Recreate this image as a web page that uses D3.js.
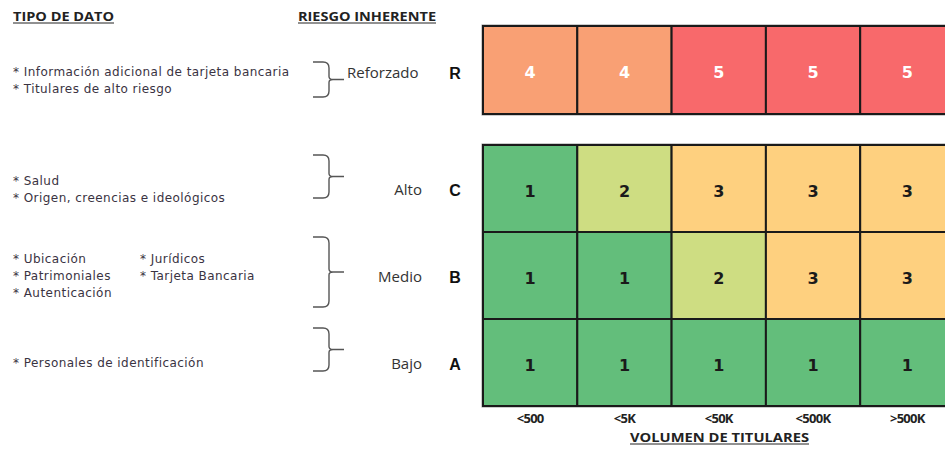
<!DOCTYPE html>
<html>
<head>
<meta charset="utf-8">
<script src="https://cdn.jsdelivr.net/npm/d3@7"></script>
<style>
    body { margin: 0; background: #fff; }
    svg { display: block; }
</style>
</head>
<body>
<script>
// data
const rowCodes = ["R", "C", "B", "A"];
const riskLevels = ["Reforzado", "Alto", "Medio", "Bajo"];
const volumes = ["<500", "<5K", "<50K", "<500K", ">500K"];
const scoreR = [4, 4, 5, 5, 5];
const scoreC = [1, 2, 3, 3, 3];
const scoreB = [1, 1, 2, 3, 3];
const scoreA = [1, 1, 1, 1, 1];
const dataTypes = [
    ["Información adicional de tarjeta bancaria", "Titulares de alto riesgo"],
    ["Salud", "Origen, creencias e ideológicos"],
    ["Ubicación", "Patrimoniales", "Autenticación", "Jurídicos", "Tarjeta Bancaria"],
    ["Personales de identificación"]
];
const scores = [scoreR, scoreC, scoreB, scoreA];

const width = 945, height = 449;
const svg = d3.select("body").append("svg")
    .attr("width", width).attr("height", height);

const cellW = 94.3;
const x = d3.scaleBand().domain(volumes).range([483, 483 + cellW * volumes.length]);

// R row sits apart, the other three are one block
const yTop = d3.scaleBand().domain(["R"]).range([26, 114]);
const yMain = d3.scaleBand().domain(["C", "B", "A"]).range([145, 406]);
const yRow = code => code === "R" ? yTop(code) : yMain(code);
const rowH = code => code === "R" ? yTop.bandwidth() : yMain.bandwidth();

const color = d3.scaleOrdinal()
    .domain([1, 2, 3, 4, 5])
    .range(["#63be7b", "#cedd82", "#fed07f", "#f9a074", "#f8696b"]);

const cells = [];
rowCodes.forEach((r, i) => scores[i].forEach((v, j) => cells.push({row: r, col: volumes[j], v})));

// light outer shadow of each block
[["R", yTop], ["C", yMain]].forEach(([k, sc]) => {
    svg.append("rect")
        .attr("x", x.range()[0] - 1).attr("y", sc.range()[0] - 1)
        .attr("width", x.range()[1] - x.range()[0] + 2)
        .attr("height", sc.range()[1] - sc.range()[0] + 2)
        .attr("fill", "none").attr("stroke", "#999").attr("stroke-width", 1);
});

const g = svg.append("g").selectAll("g").data(cells).join("g");
g.append("rect")
    .attr("x", d => x(d.col))
    .attr("y", d => yRow(d.row))
    .attr("width", x.bandwidth())
    .attr("height", d => rowH(d.row))
    .attr("fill", d => color(d.v))
    .attr("stroke", "#1a1a1a")
    .attr("stroke-width", 2);
g.append("text")
    .attr("x", d => x(d.col) + x.bandwidth() / 2)
    .attr("y", d => yRow(d.row) + rowH(d.row) / 2)
    .attr("dy", "0.5em")
    .attr("text-anchor", "middle")
    .attr("font-family", "DejaVu Sans")
    .attr("font-weight", "bold")
    .attr("font-size", 16)
    .attr("fill", d => d.row === "R" ? "#fff" : "#1a1a1a")
    .text(d => d.v);

// column labels
svg.append("g").selectAll("text").data(volumes).join("text")
    .attr("x", d => x(d) + x.bandwidth() / 2)
    .attr("y", 423)
    .attr("text-anchor", "middle")
    .attr("font-family", "Open Sans")
    .attr("font-weight", "bold")
    .attr("font-size", 13)
    .attr("letter-spacing", -0.7)
    .attr("fill", "#222")
    .text(d => d);

function header(txt, x0, y0, w) {
    svg.append("text")
        .attr("x", x0).attr("y", y0)
        .attr("font-family", "Open Sans")
        .attr("font-weight", "bold")
        .attr("font-size", 12)
        .attr("textLength", w)
        .attr("lengthAdjust", "spacingAndGlyphs")
        .attr("fill", "#222")
        .text(txt);
    svg.append("line")
        .attr("x1", x0).attr("x2", x0 + w)
        .attr("y1", y0 + 2).attr("y2", y0 + 2)
        .attr("stroke", "#222").attr("stroke-width", 1);
}
header("TIPO DE DATO", 13, 21, 101);
header("RIESGO INHERENTE", 298, 21, 138);
header("VOLUMEN DE TITULARES", 630, 442, 179);

// left side: braces, level names, row codes, bullet lists
const braces = [[62, 97], [155, 198], [237, 307], [328, 371]];
const levelY = [73, 190, 277, 364];
const bulletRows = [[72, 89], [181, 198], [259, 276, 293, 259, 276], [363]];
const bulletX = [[13, 13], [13, 13], [13, 13, 13, 140, 140], [13]];

braces.forEach(([t, b], i) => {
    const m = (t + b) / 2;
    const bx = 329;
    svg.append("path")
        .attr("d", `M313,${t} L${bx - 6},${t} Q${bx},${t} ${bx},${t + 6} L${bx},${m - 3} Q${bx},${m} ${bx + 4},${m} L344,${m}
                    M${bx + 4},${m} Q${bx},${m} ${bx},${m + 3} L${bx},${b - 6} Q${bx},${b} ${bx - 6},${b} L313,${b}`)
        .attr("fill", "none")
        .attr("stroke", "#555")
        .attr("stroke-width", 1.4);

    svg.append("text")
        .attr("x", i === 0 ? 347 : 422)
        .attr("y", levelY[i])
        .attr("dy", "0.35em")
        .attr("text-anchor", i === 0 ? "start" : "end")
        .attr("font-family", "Open Sans")
        .attr("font-size", 15)
        .attr("fill", "#333")
        .text(riskLevels[i]);

    svg.append("text")
        .attr("x", 455)
        .attr("y", levelY[i])
        .attr("dy", "0.35em")
        .attr("text-anchor", "middle")
        .attr("font-family", "Liberation Sans")
        .attr("font-weight", "bold")
        .attr("font-size", 16)
        .attr("fill", "#111")
        .text(rowCodes[i]);

    dataTypes[i].forEach((d, k) => {
        svg.append("text")
            .attr("x", bulletX[i][k])
            .attr("y", bulletRows[i][k])
            .attr("dy", "0.35em")
            .attr("font-family", "DejaVu Sans")
            .attr("font-size", 12)
            .attr("letter-spacing", 0.45)
            .attr("fill", "#3a3342")
            .text("* " + d);
    });
});
</script>
</body>
</html>
